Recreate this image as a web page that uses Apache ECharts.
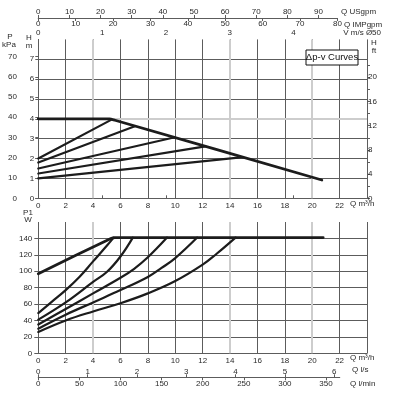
<!DOCTYPE html>
<html><head><meta charset="utf-8">
<script src="https://cdn.jsdelivr.net/npm/echarts@6/dist/echarts.min.js"></script>
<style>html,body{margin:0;padding:0;background:#fff}#c{width:393px;height:395px}</style>
</head><body><div id="c"></div>
<script>
// ---- Δp-v head curves (Q m³/h, H m) ----
const dpvMaxQ = [0, 5.2, 5.6, 20.7];
const dpvMaxH = [4.0, 4.0, 3.93, 0.92];
const dpv1Q = [0, 5.35];  const dpv1H = [2.0, 3.96];
const dpv2Q = [0, 7.05];  const dpv2H = [1.8, 3.63];
const dpv3Q = [0, 9.9];   const dpv3H = [1.5, 3.06];
const dpv4Q = [0, 12.2];  const dpv4H = [1.25, 2.61];
const dpv5Q = [0, 14.95]; const dpv5H = [1.0, 2.07];
// ---- Power curves (Q m³/h, P1 W) ----
const p1MaxQ = [0, 5.3, 5.6, 20.8];
const p1MaxW = [97, 140, 141, 141];
const p1c1Q = [0, 1, 2, 3, 4, 5, 5.5];            const p1c1W = [49, 63, 77, 93, 112, 131, 141];
const p1c2Q = [0, 2, 4, 5, 6, 6.9];               const p1c2W = [41, 62, 87, 99, 118, 141];
const p1c3Q = [0, 2, 4, 6, 7, 8, 9.4];            const p1c3W = [35, 54, 73, 92, 103, 117, 141];
const p1c4Q = [0, 2, 4, 6, 8, 9, 10, 11.6];       const p1c4W = [30, 47, 62, 77, 93, 104, 116, 141];
const p1c5Q = [0, 2, 4, 6, 8, 10, 12, 13, 14.4];  const p1c5W = [26, 40, 51, 61, 73, 88, 108, 121, 141];
// ---- tick labels ----
const qTicks = [0, 2, 4, 6, 8, 10, 12, 14, 16, 18, 20, 22];
const hTicks = [0, 1, 2, 3, 4, 5, 6, 7];
const kpaTicks = [0, 10, 20, 30, 40, 50, 60, 70];
const ftTicks = [0, 4, 8, 12, 16, 20];
const ftMinor = [0, 2, 4, 6, 8, 10, 12, 14, 16, 18, 20, 22];
const wTicks = [0, 20, 40, 60, 80, 100, 120, 140];
const vTicks = [0, 1, 2, 3, 4];
const usTicks = [0, 10, 20, 30, 40, 50, 60, 70, 80, 90];
const impTicks = [0, 10, 20, 30, 40, 50, 60, 70, 80];
const lsTicks = [0, 1, 2, 3, 4, 5, 6];
const lminTicks = [0, 50, 100, 150, 200, 250, 300, 350];
const lightQ = [4, 14, 20];
const lightH = [4];

const zip = (a, b) => a.map((v, i) => [v, b[i]]);
const FONT = 'Liberation Sans, Arial, sans-serif';
const TXT = '#2a2a2a';
const GRID = '#5c5c5c';
const lab = (extra) => Object.assign({fontSize: 8, color: TXT, fontFamily: FONT}, extra);

const chart = echarts.init(document.getElementById('c'), null, {renderer: 'canvas'});

const L = 38.3, W = 328.7;
const option = {
  animation: false,
  backgroundColor: '#fff',
  grid: [
    {left: L, top: 39.4, width: W, height: 158.9},
    {left: L, top: 222, width: W, height: 131.3},
    {left: L, top: 18, width: 299.1, height: 0},
    {left: L, top: 377.3, width: 301.4, height: 0}
  ],
  xAxis: [
    {gridIndex: 0, type: 'value', position: 'bottom', min: 0, max: 24, interval: 2,
     axisLine: {show: true, lineStyle: {color: GRID, width: 1}}, axisTick: {show: false},
     axisLabel: lab({margin: 3, customValues: qTicks}),
     splitLine: {show: true, lineStyle: {color: GRID, width: 1}}},
    {gridIndex: 0, type: 'value', position: 'top', min: 0, max: 24 / 4.66,
     axisLine: {show: false}, axisTick: {show: true, length: 3, customValues: [1, 2, 3, 4], lineStyle: {color: GRID}},
     axisLabel: lab({margin: 3, customValues: vTicks}), splitLine: {show: false}},
    {gridIndex: 2, type: 'value', position: 'top', min: 0, max: 80 * 1.20095,
     axisLine: {show: true, lineStyle: {color: GRID, width: 1}},
     axisTick: {show: true, length: 3, customValues: usTicks, lineStyle: {color: GRID}},
     axisLabel: lab({margin: 2, customValues: usTicks}), splitLine: {show: false}},
    {gridIndex: 2, type: 'value', position: 'bottom', min: 0, max: 80,
     axisLine: {show: true, lineStyle: {color: GRID, width: 1}},
     axisTick: {show: true, length: 3, customValues: impTicks, lineStyle: {color: GRID}},
     axisLabel: lab({margin: 2, customValues: impTicks}), splitLine: {show: false}},
    {gridIndex: 1, type: 'value', position: 'bottom', min: 0, max: 24, interval: 2,
     axisLine: {show: true, lineStyle: {color: GRID, width: 1}}, axisTick: {show: false},
     axisLabel: lab({margin: 3, customValues: qTicks}),
     splitLine: {show: true, lineStyle: {color: GRID, width: 1}}},
    {gridIndex: 3, type: 'value', position: 'top', min: 0, max: 22 / 3.6,
     axisLine: {show: true, lineStyle: {color: GRID, width: 1}},
     axisTick: {show: true, length: 3, customValues: lsTicks, lineStyle: {color: GRID}},
     axisLabel: lab({margin: 2, customValues: lsTicks}), splitLine: {show: false}},
    {gridIndex: 3, type: 'value', position: 'bottom', min: 0, max: 22 / 0.06,
     axisLine: {show: true, lineStyle: {color: GRID, width: 1}},
     axisTick: {show: true, length: 3, customValues: lminTicks, lineStyle: {color: GRID}},
     axisLabel: lab({margin: 2, customValues: lminTicks}), splitLine: {show: false}}
  ],
  yAxis: [
    {gridIndex: 0, type: 'value', position: 'left', min: 0, max: 8, interval: 1,
     axisLine: {show: false}, axisTick: {show: true, length: 3, customValues: hTicks, lineStyle: {color: GRID}},
     axisLabel: lab({margin: 4, customValues: hTicks}),
     splitLine: {show: true, lineStyle: {color: GRID, width: 1}}},
    {gridIndex: 0, type: 'value', position: 'left', offset: 18.3, min: 0, max: 78.45,
     axisLine: {show: true, lineStyle: {color: GRID, width: 1}},
     axisTick: {show: true, length: 3, customValues: kpaTicks, lineStyle: {color: GRID}},
     axisLabel: lab({margin: 3, customValues: kpaTicks}), splitLine: {show: false}},
    {gridIndex: 0, type: 'value', position: 'right', min: 0, max: 8 / 0.3048,
     axisLine: {show: false},
     axisTick: {show: true, length: 3, customValues: ftMinor, lineStyle: {color: GRID}},
     axisLabel: lab({margin: 1, customValues: ftTicks}), splitLine: {show: false}},
    {gridIndex: 1, type: 'value', position: 'left', min: 0, max: 160, interval: 20,
     axisLine: {show: false}, axisTick: {show: true, length: 4, customValues: wTicks, lineStyle: {color: GRID}},
     axisLabel: lab({margin: 6, customValues: wTicks}),
     splitLine: {show: true, lineStyle: {color: GRID, width: 1}}},
    {gridIndex: 2, type: 'value', show: false, min: 0, max: 1},
    {gridIndex: 3, type: 'value', show: false, min: 0, max: 1}
  ],
  series: [],
  graphic: []
};

const light = {color: '#cdcdcd', width: 2, type: 'solid'};
option.series.push({
  type: 'line', xAxisIndex: 0, yAxisIndex: 0, data: [], z: 1, silent: true,
  markLine: {z: 1, symbol: 'none', silent: true, animation: false, label: {show: false}, lineStyle: light,
    emphasis: {disabled: true},
    data: lightQ.map(v => ({xAxis: v})).concat(lightH.map(v => ({yAxis: v})))}
});
option.series.push({
  type: 'line', xAxisIndex: 4, yAxisIndex: 3, data: [], z: 1, silent: true,
  markLine: {z: 1, symbol: 'none', silent: true, animation: false, label: {show: false}, lineStyle: light,
    emphasis: {disabled: true},
    data: lightQ.map(v => ({xAxis: v}))}
});

const CURVE = '#1c1c1c';
function addLine(xi, yi, q, v, w, smooth) {
  option.series.push({
    type: 'line', xAxisIndex: xi, yAxisIndex: yi, data: zip(q, v), z: 3,
    showSymbol: false, symbol: 'none', smooth: smooth || false,
    lineStyle: {color: CURVE, width: w, cap: 'round', join: 'round'}
  });
}
addLine(0, 0, dpvMaxQ, dpvMaxH, 2.8, 0.15);
addLine(0, 0, dpv1Q, dpv1H, 2.2);
addLine(0, 0, dpv2Q, dpv2H, 2.2);
addLine(0, 0, dpv3Q, dpv3H, 2.2);
addLine(0, 0, dpv4Q, dpv4H, 2.2);
addLine(0, 0, dpv5Q, dpv5H, 2.2);
addLine(4, 3, p1MaxQ, p1MaxW, 2.8, 0.15);
addLine(4, 3, p1c1Q, p1c1W, 2.2, 0.4);
addLine(4, 3, p1c2Q, p1c2W, 2.2, 0.4);
addLine(4, 3, p1c3Q, p1c3W, 2.2, 0.4);
addLine(4, 3, p1c4Q, p1c4W, 2.2, 0.4);
addLine(4, 3, p1c5Q, p1c5W, 2.2, 0.4);

function gtxt(x, y, s, align, size) {
  option.graphic.push({type: 'text', x: x, y: y, silent: true,
    style: {text: s, fill: TXT, font: (size || 8) + 'px ' + FONT, align: align || 'left', verticalAlign: 'middle'}});
}
gtxt(10, 37, 'P', 'center');
gtxt(9, 45, 'kPa', 'center');
gtxt(29, 38, 'H', 'center');
gtxt(29, 46, 'm', 'center');
gtxt(374, 43, 'H', 'center');
gtxt(374, 51, 'ft', 'center');
gtxt(28, 213, 'P1', 'center');
gtxt(28, 220, 'W', 'center');
gtxt(350, 204, 'Q m³/h', 'left');
gtxt(350, 358, 'Q m³/h', 'left');
gtxt(381, 33, 'V m/s Ø50', 'right');
gtxt(341, 12, 'Q USgpm', 'left');
gtxt(344, 25, 'Q IMPgpm', 'left');
gtxt(352, 370, 'Q l/s', 'left');
gtxt(350, 384, 'Q l/min', 'left');
option.graphic.push({type: 'rect', shape: {x: 306, y: 50, width: 52, height: 15}, silent: true, z: 10,
  style: {fill: '#fff', stroke: '#111', lineWidth: 1}});
option.graphic.push({type: 'text', x: 332, y: 57.5, silent: true, z: 11,
  style: {text: 'Δp-v Curves', fill: '#111', font: '9.5px "Liberation Sans Narrow", "Liberation Sans", Arial, sans-serif',
    align: 'center', verticalAlign: 'middle'}});

chart.setOption(option);
</script></body></html>
